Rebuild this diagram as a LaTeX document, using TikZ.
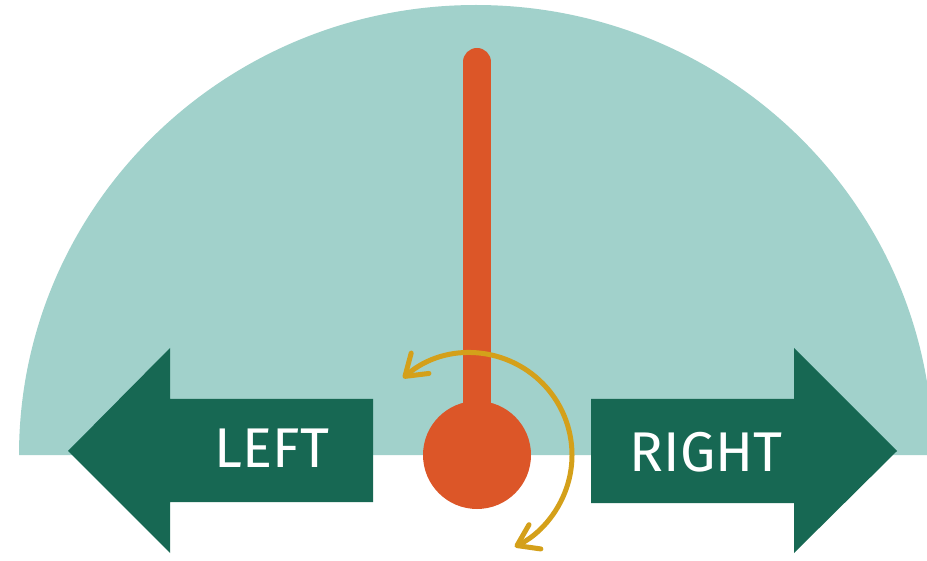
\documentclass[tikz,border=0pt]{standalone}
\usepackage{fontspec}
\setsansfont{Fira Sans}
\usetikzlibrary{arrows.meta}
\definecolor{bgteal}{HTML}{A1D1CB}
\definecolor{dgreen}{HTML}{176853}
\definecolor{needle}{HTML}{DC5628}
\definecolor{gold}{HTML}{D4A01A}
\tikzset{
  arrowshape/.style={fill=dgreen, draw=none},
  lbl/.style={text=white, font=\sffamily\fontsize{56}{56}\selectfont, inner sep=0pt},
  barb/.tip={Straight Barb[length=20pt, width=27pt, round, line width=5pt]},
  rot/.style={draw=gold, line width=5pt, line cap=round, barb-barb}
}
\begin{document}
\begin{tikzpicture}[x=1pt,y=-1pt]
\useasboundingbox (0,0) rectangle (927,561);
% background half disc
\fill[bgteal] (19,455) arc[start angle=180, end angle=360, x radius=457, y radius=450] -- cycle;
% left arrow
\fill[arrowshape] (373,399) -- (170,399) -- (170,348) -- (68,451) -- (170,553) -- (170,502) -- (373,502) -- cycle;
\node[lbl] (left) at (272,448) {LEFT};
% right arrow
\fill[arrowshape] (591,399) -- (794,399) -- (794,348) -- (897,451) -- (794,553) -- (794,503) -- (591,503) -- cycle;
\node[lbl] (right) at (706,452) {RIGHT};
% needle
\draw[needle, line width=28pt, line cap=round] (477,62) -- (477,455);
\fill[needle] (477,455) circle[radius=54];
\coordinate (pivot) at (470,455);
% rotation arrow
\draw[rot] ([shift={(-131:102)}]pivot) arc[start angle=-131, end angle=64, radius=102];
\end{tikzpicture}
\end{document}
